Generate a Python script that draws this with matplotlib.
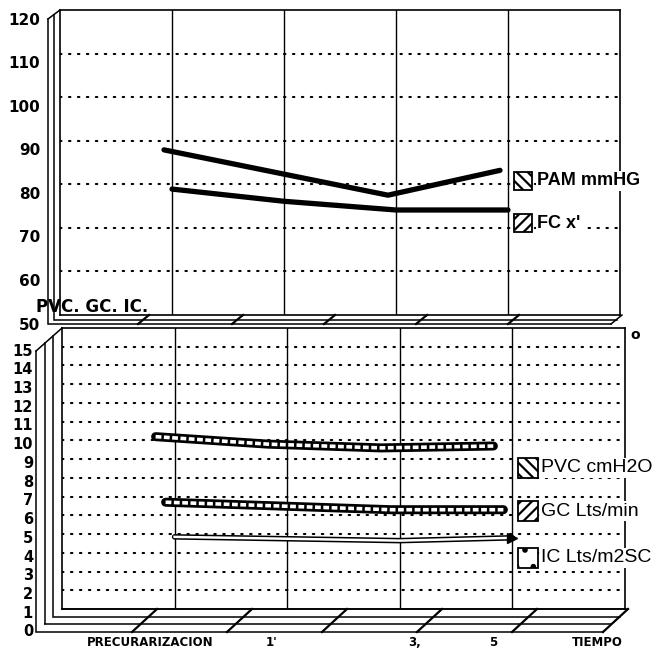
import matplotlib
matplotlib.use('Agg')
import matplotlib.pyplot as plt
from matplotlib import transforms
from matplotlib.lines import Line2D
from matplotlib.patches import Rectangle

# data
categories = ['PRECURARIZACION', "1'", '3,', '5']
x_title = 'TIEMPO'
steps = [1, 2, 3, 4]

pam = [87.9, 82.7, 77.5, 83.2]
fc = [78.9, 76.1, 74.1, 74.1]
top_names = ['PAM mmHG', "FC x'"]

pvc = [9.2, 8.8, 8.6, 8.7]
gc = [5.7, 5.5, 5.3, 5.3]
ic = [3.85, 3.75, 3.65, 3.8]
bottom_names = ['PVC cmH2O', 'GC Lts/min', 'IC Lts/m2SC']

top_ticks = [50, 60, 70, 80, 90, 100, 110, 120]
bottom_ticks = list(range(0, 16))

W, H = 660, 651
fig = plt.figure(figsize=(W / 100, H / 100), dpi=100)
fig.patch.set_facecolor('white')
plt.rcParams['hatch.linewidth'] = 1.6


def fx(x):
    return x / W


def fy(y):
    return 1 - y / H


def shift(dx, dy):
    # pixel offset (dy positive = down)
    return transforms.ScaledTranslation(dx / 100, -dy / 100, fig.dpi_scale_trans)


def seg(x0, y0, x1, y1, lw=1.1):
    fig.add_artist(Line2D([fx(x0), fx(x1)], [fy(y0), fy(y1)], color='black',
                          lw=lw, transform=fig.transFigure))


def make_axes(left, right, top, bottom, ymin, ymax):
    ax = fig.add_axes([fx(left), fy(bottom), fx(right) - fx(left), fy(top) - fy(bottom)])
    ax.set_xlim(0, 5)
    ax.set_ylim(ymin, ymax)
    ax.set_xticks([])
    ax.set_yticks([])
    for sp in ax.spines.values():
        sp.set_linewidth(1.2)
    return ax


dots = dict(color='black', lw=1.5, linestyle=(0, (0.7, 3.6)), dash_capstyle='round')

# ---------- top panel ----------
ax1 = make_axes(60, 620, 10, 315, 50, 120)
for v in top_ticks[1:-1]:
    ax1.axhline(v, **dots, zorder=1)
for s in steps:
    ax1.axvline(s, color='black', lw=1.0, zorder=1)

ax1.plot(steps, pam, color='black', lw=3.8, solid_capstyle='round',
         transform=ax1.transData + shift(-8, 0), zorder=3)
ax1.plot(steps, fc, color='black', lw=3.8, solid_capstyle='round', zorder=3)

lab_tr = transforms.blended_transform_factory(ax1.transAxes, ax1.transData)
for v in top_ticks:
    ax1.text(0, v, str(v), transform=lab_tr + shift(-20, 10), ha='right', va='center',
             fontsize=11, fontweight='bold')

# left wall and floor of the top panel
seg(60, 10, 48, 19)
seg(48, 19, 48, 324)
seg(54, 15, 54, 320)
for t in (0.5, 1.0):
    seg(60 - 11 * t, 315 + 9 * t, 622 - 11 * t, 315 + 9 * t)
seg(622, 315, 611, 324)
for bx in (149, 243, 335, 427, 519):
    seg(bx, 315, bx - 11, 324, lw=1.6)

# ---------- bottom panel ----------
ax2 = make_axes(62, 625, 328, 609, 0, 15)
for v in bottom_ticks[1:-1]:
    ax2.axhline(v, **dots, zorder=1)
for s in steps:
    ax2.axvline(s, color='black', lw=1.0, zorder=1)

ribbons = [(pvc, -19), (gc, -9)]
for vals, dx in ribbons:
    tr = ax2.transData + shift(dx, 0)
    ax2.plot(steps, vals, color='black', lw=6.5, solid_capstyle='round', transform=tr, zorder=3)
    ax2.plot(steps, vals, color='white', lw=2.6, linestyle=(0, (1.6, 0.7)), transform=tr, zorder=4)
ax2.plot(steps, ic, color='black', lw=4.0, solid_capstyle='round', zorder=3)
ax2.plot(steps, ic, color='white', lw=1.8, zorder=4)
ax2.plot(steps[-1:], ic[-1:], marker='>', color='black', ms=7, zorder=5)

lab_tr2 = transforms.blended_transform_factory(ax2.transAxes, ax2.transData)
for v in bottom_ticks:
    ax2.text(0, v, str(v), transform=lab_tr2 + shift(-29, 23), ha='right', va='center',
             fontsize=10.5, fontweight='bold')

# left wall and floor of the bottom panel
seg(62, 328, 36, 351)
for t in (1 / 3, 2 / 3, 1.0):
    seg(62 - 26 * t, 328 + 23 * t, 62 - 26 * t, 609 + 23 * t)
    seg(62 - 25 * t, 609 + 23 * t, 628 - 25 * t, 609 + 23 * t)
seg(62, 609, 628, 609)
for k in range(1, 7):
    bx = 62 + 95 * k if k < 6 else 628
    seg(bx, 609, bx - 25, 632, lw=1.6)

# category labels under the floor
cat_x = [0.78, 1.865, 3.135, 3.83]
xl_tr = transforms.blended_transform_factory(ax2.transData, ax2.transAxes)
for xp, lab in zip(cat_x, categories):
    ax2.text(xp, 0, lab, transform=xl_tr + shift(0, 34), ha='center', va='center',
             fontsize=8.5, fontweight='bold')
ax2.text(4.75, 0, x_title, transform=xl_tr + shift(0, 34), ha='center', va='center',
         fontsize=8.5, fontweight='bold')

fig.text(fx(36), fy(307), 'PVC. GC. IC.', ha='left', va='center', fontsize=12, fontweight='bold')
fig.text(fx(635), fy(335), 'o', ha='center', va='center', fontsize=10, fontweight='bold')

# legends (white behind the text so the dotted grid stops at the words)
leg_font = dict(family=['Liberation Sans', 'DejaVu Sans'], ha='left', va='center',
                bbox=dict(facecolor='white', edgecolor='none', pad=1.0))
top_hatch = ['\\\\\\', '///']
top_y = [181, 223]
for name, hatch, yc in zip(top_names, top_hatch, top_y):
    fig.add_artist(Rectangle((fx(514), fy(yc + 9)), 18 / W, 18 / H, transform=fig.transFigure,
                             facecolor='white', edgecolor='black', lw=1.3, hatch=hatch))
    fig.text(fx(537), fy(yc), name, fontsize=13, fontweight='bold', **leg_font)

bottom_hatch = ['\\\\\\', '///', '.']
bottom_y = [468, 511, 558]
for name, hatch, yc in zip(bottom_names, bottom_hatch, bottom_y):
    fig.add_artist(Rectangle((fx(518), fy(yc + 10)), 20 / W, 20 / H, transform=fig.transFigure,
                             facecolor='white', edgecolor='black', lw=1.3, hatch=hatch))
    fig.text(fx(541), fy(yc), name, fontsize=14, **leg_font)

fig.savefig('out.png', dpi=100, facecolor='white')
